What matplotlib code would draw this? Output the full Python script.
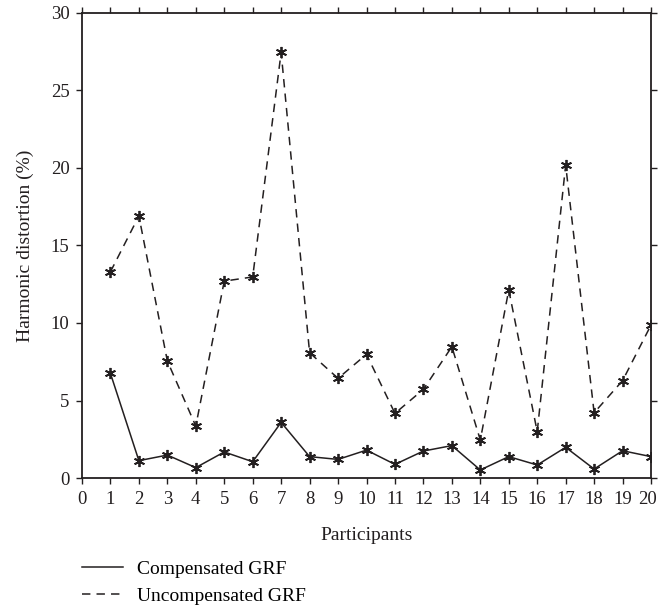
import matplotlib
matplotlib.use("Agg")
import matplotlib.pyplot as plt
from matplotlib.transforms import ScaledTranslation

participants = list(range(1, 21))
compensated = [6.75, 1.12, 1.48, 0.67, 1.68, 1.05, 3.59, 1.38, 1.2, 1.8,
               0.88, 1.74, 2.09, 0.52, 1.38, 0.84, 1.98, 0.58, 1.76, 1.38]
uncompensated = [13.3, 16.9, 7.55, 3.35, 12.7, 12.97, 27.46, 8.08, 6.43, 7.98,
                 4.17, 5.72, 8.47, 2.45, 12.13, 2.99, 20.19, 4.21, 6.28, 9.87]

plt.rcParams['font.family'] = ['Liberation Serif', 'DejaVu Serif']
ink = '#231f20'

fig = plt.figure(figsize=(6.59, 6.16), dpi=100)
ax = fig.add_axes([0.1244, 0.224, 0.8635, 0.755])

star = (6, 2, 0)
ax.plot(participants, compensated, color=ink, lw=1.1, marker=star, ms=8,
        mew=1.3, label='Compensated GRF')
ax.plot(participants, uncompensated, color=ink, lw=1.1, ls=(0, (5.5, 4)),
        marker=star, ms=8, mew=1.3, label='Uncompensated GRF')

ax.set_xlim(0, 20)
ax.set_ylim(0, 30)
ax.set_xticks(range(0, 21))
ax.set_yticks(range(0, 31, 5))
ax.tick_params(direction='out', length=4, width=1, colors=ink, labelsize=13.5,
               top=True, right=True, labeltop=False, labelright=False, pad=5)
for s in ax.spines.values():
    s.set_linewidth(1.3)
    s.set_color(ink)

# keep the last x label inside the figure, as in the reference
last = ax.get_xticklabels()[-1]
last.set_transform(last.get_transform() + ScaledTranslation(-4 / 100, 0, fig.dpi_scale_trans))

ax.set_xlabel('Participants', fontsize=14, color=ink, labelpad=14)
ax.set_ylabel('Harmonic distortion (%)', fontsize=14, color=ink, labelpad=12)

ax.legend(loc='upper left', bbox_to_anchor=(-0.03, -0.14), frameon=False,
          fontsize=14, handlelength=2.1, handletextpad=0.7, labelspacing=0.45,
          markerscale=0)

fig.savefig('out.png', dpi=100)
